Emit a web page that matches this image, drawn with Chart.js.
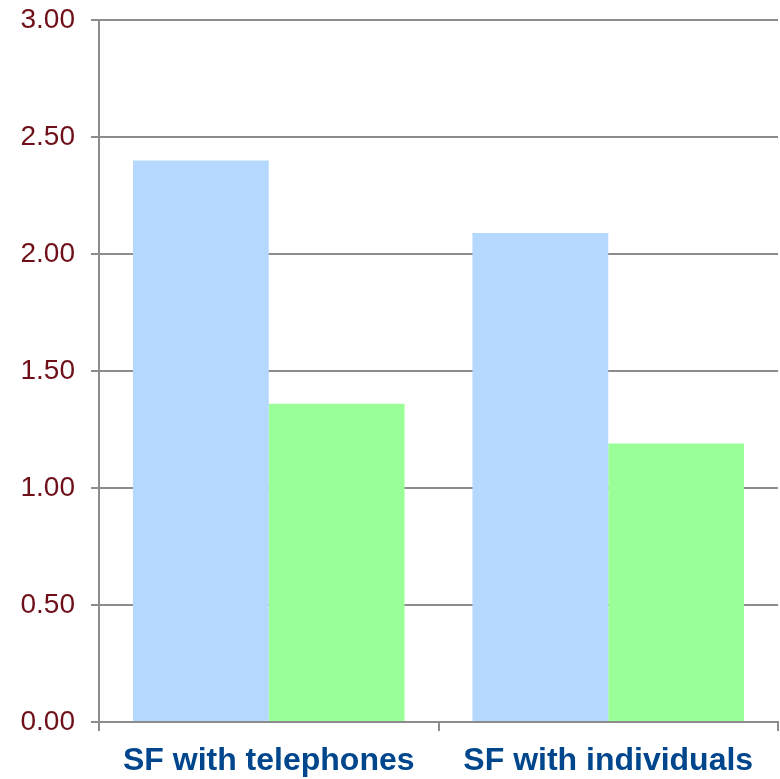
<!DOCTYPE html>
<html>
<head>
<meta charset="utf-8">
<script src="https://cdn.jsdelivr.net/npm/chart.js@4/dist/chart.umd.min.js"></script>
<style>
  body { margin: 0; background: #fff; }
  #myChart { display: block; }
</style>
</head>
<body>
<canvas id="myChart" width="780" height="779"></canvas>
<script>
// Data
const categories = ['SF with telephones', 'SF with individuals'];
const blueValues = [2.40, 2.09];
const greenValues = [1.36, 1.19];
const yTicks = [0, 0.5, 1, 1.5, 2, 2.5, 3];

const gridColor = '#8c8c8c';

const ctx = document.getElementById('myChart').getContext('2d');
const myChart = new Chart(ctx, {
  type: 'bar',
  data: {
    labels: categories,
    datasets: [{
      label: 'Series 1',
      data: blueValues,
      backgroundColor: '#b5d8fe',
      borderWidth: 0,
      categoryPercentage: 0.8,
      barPercentage: 1.0
    }, {
      label: 'Series 2',
      data: greenValues,
      backgroundColor: '#9bff99',
      borderWidth: 0,
      categoryPercentage: 0.8,
      barPercentage: 1.0
    }]
  },
  options: {
    responsive: false,
    animation: false,
    layout: {
      padding: { top: 20, right: 2, left: 0, bottom: 0 }
    },
    plugins: {
      legend: { display: false },
      tooltip: { enabled: false }
    },
    scales: {
      x: {
        grid: {
          drawOnChartArea: false,
          drawTicks: true,
          tickLength: 9,
          color: gridColor,
          lineWidth: 2
        },
        border: { display: true, color: gridColor, width: 2 },
        ticks: {
          color: '#00468c',
          padding: 11,
          maxRotation: 0,
          font: { family: 'Liberation Sans, Arial, sans-serif', size: 32, weight: 'bold' }
        },
        afterFit: (scale) => {
          scale.height = 57;
          scale.paddingLeft = 0;
          scale.paddingRight = 0;
        }
      },
      y: {
        min: 0,
        max: 3,
        afterBuildTicks: (scale) => {
          scale.ticks = yTicks.map(v => ({ value: v }));
        },
        grid: {
          color: gridColor,
          lineWidth: 2,
          drawTicks: true,
          tickLength: 8
        },
        border: { display: true, color: gridColor, width: 2 },
        ticks: {
          color: '#6e0f19',
          padding: 16,
          font: { family: 'Liberation Sans, Arial, sans-serif', size: 28 },
          callback: (value) => Number(value).toFixed(2)
        },
        afterFit: (scale) => {
          scale.width = 99;
          scale.paddingTop = 0;
          scale.paddingBottom = 0;
        }
      }
    }
  }
});
</script>
</body>
</html>
